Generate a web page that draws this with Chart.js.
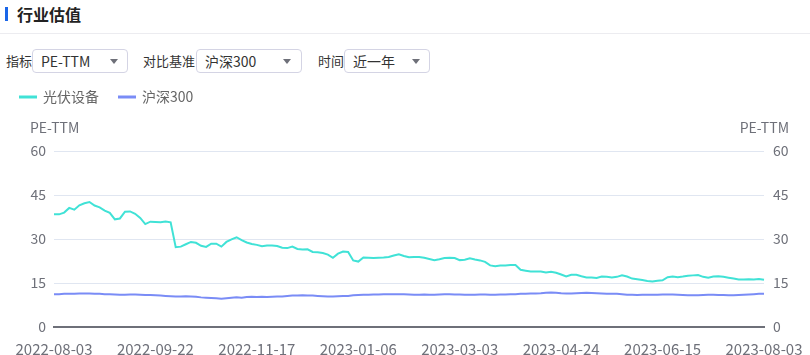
<!DOCTYPE html>
<html>
<head>
<meta charset="utf-8">
<script src="https://cdn.jsdelivr.net/npm/chart.js@4"></script>
<style>
  body { margin: 0; width: 810px; height: 355px; background: #fff; font-family: "Microsoft YaHei", "Noto Sans CJK SC", sans-serif; color: #333; overflow: hidden; position: relative; }
  .bar { position: absolute; left: 5px; top: 7px; width: 3px; height: 14px; background: #1a66e8; }
  .title { position: absolute; left: 17px; top: 2px; font-size: 16px; font-weight: bold; line-height: 24px; color: #222; }
  .sep { position: absolute; left: 0; top: 33px; width: 810px; height: 1px; background: #ececf0; }
  .lbl { position: absolute; top: 51px; font-size: 13px; line-height: 20px; color: #333; }
  .sel { position: absolute; top: 49px; height: 22px; border: 1px solid #d4d4e4; border-radius: 4px; box-sizing: content-box; font-size: 14px; line-height: 22px; color: #333; z-index: 2; background: #fff; }
  .sel span { position: absolute; left: 8px; top: 0; }
  .sel i { position: absolute; top: 9px; width: 0; height: 0; border-left: 4px solid transparent; border-right: 4px solid transparent; border-top: 5px solid #6e7079; }
  #wrap { position: absolute; left: 0; top: 70px; width: 810px; height: 285px; }
</style>
</head>
<body>
<div class="bar"></div>
<div class="title">行业估值</div>
<div class="sep"></div>
<div class="lbl" style="left:6px">指标</div>
<div class="sel" style="left:32px;width:94px"><span>PE-TTM</span><i style="left:77px"></i></div>
<div class="lbl" style="left:143px">对比基准</div>
<div class="sel" style="left:196px;width:104px"><span>沪深300</span><i style="left:86px"></i></div>
<div class="lbl" style="left:318px">时间</div>
<div class="sel" style="left:344px;width:84px"><span>近一年</span><i style="left:67px"></i></div>
<div id="wrap"><canvas id="c"></canvas></div>
<script>
const seriesNames = ['光伏设备', '沪深300'];
const tickDates = ['2022-08-03', '2022-09-22', '2022-11-17', '2023-01-06', '2023-03-03', '2023-04-24', '2023-06-15', '2023-08-03'];
const yTicks = [0, 15, 30, 45, 60];

const pvValues = [
  38.4, 38.4, 39.0, 40.6, 40.0, 41.5, 42.2, 42.6, 41.4, 40.8,
  39.7, 38.9, 36.7, 37.0, 39.3, 39.4, 38.6, 37.2, 35.1, 35.9,
  35.8, 35.7, 36.0, 35.7, 27.2, 27.4, 28.2, 29.0, 28.7, 27.7,
  27.3, 28.4, 28.4, 27.4, 29.0, 29.9, 30.6, 29.6, 28.8, 28.3,
  28.0, 27.5, 27.8, 27.8, 27.6, 27.0, 26.9, 27.4, 26.6, 26.4,
  26.5, 25.6, 25.5, 25.2, 24.7, 23.6, 25.0, 25.7, 25.6, 22.7,
  22.3, 23.7, 23.6, 23.5, 23.6, 23.7, 23.9, 24.4, 24.8, 24.2,
  23.8, 23.9, 23.9, 23.6, 23.2, 22.8, 23.1, 23.5, 23.6, 23.5,
  22.8, 22.9, 23.4, 23.0, 22.7, 22.2, 21.0, 20.7, 21.0, 21.0,
  21.1, 21.1, 19.5, 19.2, 18.9, 18.9, 18.9, 18.6, 18.8, 18.5,
  17.9, 17.2, 17.8, 17.8, 17.3, 16.9, 16.9, 16.7, 17.2, 17.1,
  16.9, 17.1, 17.6, 17.2, 16.5, 16.3, 16.0, 15.7, 15.5, 15.8,
  15.9, 17.0, 17.2, 17.0, 17.2, 17.5, 17.6, 17.7, 17.1, 16.8,
  17.2, 17.3, 17.1, 16.8, 16.5, 16.2, 16.2, 16.3, 16.2, 16.4,
  16.1
];

const hs300Values = [
  11.2, 11.2, 11.3, 11.3, 11.3, 11.4, 11.4, 11.4, 11.3, 11.3,
  11.2, 11.2, 11.1, 11.0, 11.0, 11.1, 11.1, 11.0, 10.9, 10.9,
  10.8, 10.7, 10.6, 10.5, 10.4, 10.4, 10.5, 10.4, 10.3, 10.1,
  10.0, 9.9, 9.8, 9.6, 9.8, 10.0, 10.1, 10.0, 10.2, 10.3,
  10.2, 10.3, 10.2, 10.3, 10.4, 10.4, 10.6, 10.7, 10.7, 10.8,
  10.7, 10.7, 10.6, 10.5, 10.4, 10.4, 10.5, 10.6, 10.6, 10.8,
  10.9, 11.0, 11.0, 11.1, 11.1, 11.2, 11.2, 11.2, 11.2, 11.2,
  11.1, 11.0, 11.0, 11.1, 11.0, 11.0, 11.1, 11.2, 11.2, 11.1,
  11.1, 11.0, 11.0, 11.0, 11.1, 11.1, 11.0, 11.0, 11.1, 11.1,
  11.2, 11.2, 11.3, 11.3, 11.4, 11.4, 11.5, 11.7, 11.8, 11.7,
  11.5, 11.4, 11.4, 11.5, 11.6, 11.7, 11.6, 11.5, 11.4, 11.3,
  11.3, 11.3, 11.2, 11.0, 11.0, 10.9, 11.0, 11.0, 11.0, 11.0,
  11.1, 11.1, 11.1, 11.0, 10.9, 10.8, 10.8, 10.8, 10.9, 11.0,
  11.0, 10.9, 10.9, 10.8, 10.8, 10.9, 11.0, 11.1, 11.2, 11.3,
  11.3
];

// one label every 20 points, the rest blank
const step = (pvValues.length - 1) / (tickDates.length - 1);
const labels = pvValues.map((v, i) => (i % step === 0 ? tickDates[i / step] : ''));

const axisColor = '#6e7079';
const font = { family: '"Microsoft YaHei", "Noto Sans CJK SC", sans-serif', size: 14 };

const axisTitles = {
  id: 'axisTitles',
  afterDraw(chart) {
    const { ctx, chartArea } = chart;
    ctx.save();
    ctx.font = '14px ' + font.family;
    ctx.fillStyle = axisColor;
    ctx.textBaseline = 'middle';
    ctx.textAlign = 'left';
    ctx.fillText('PE-TTM', 30, chartArea.top - 23);
    ctx.textAlign = 'right';
    ctx.fillText('PE-TTM', 789, chartArea.top - 23);
    ctx.restore();
  }
};

new Chart(document.getElementById('c'), {
  type: 'line',
  data: {
    labels: labels,
    datasets: [
      { label: seriesNames[0], data: pvValues, borderColor: '#40e2d6', backgroundColor: '#40e2d6', borderWidth: 2, pointRadius: 0, yAxisID: 'y' },
      { label: seriesNames[1], data: hs300Values, borderColor: '#7a8cf6', backgroundColor: '#7a8cf6', borderWidth: 2, pointRadius: 0, yAxisID: 'y1' }
    ]
  },
  options: {
    responsive: true,
    maintainAspectRatio: false,
    animation: false,
    layout: { padding: 0 },
    plugins: {
      legend: {
        align: 'start',
        labels: { boxWidth: 16, boxHeight: 1, padding: 20, color: '#666', font: font }
      },
      title: {
        display: true,
        text: ' ',
        weight: 500,
        font: { size: 14, lineHeight: 1.2 },
        padding: { top: 10, bottom: 10.2 }
      },
      tooltip: { enabled: false }
    },
    scales: {
      x: {
        offset: false,
        grid: { display: false },
        border: { color: axisColor, width: 2 },
        ticks: { autoSkip: false, maxRotation: 0, padding: 5, color: axisColor, font: { family: font.family, size: 15 } },
        afterFit(scale) { scale.height = 28; }
      },
      y: {
        position: 'left',
        min: yTicks[0], max: yTicks[yTicks.length - 1],
        afterBuildTicks(scale) { scale.ticks = yTicks.map(v => ({ value: v })); },
        grid: { color: '#e0e6f1', drawTicks: false },
        border: { display: false },
        ticks: { padding: 8, color: axisColor, font: font },
        afterFit(scale) { scale.width = 54; }
      },
      y1: {
        position: 'right',
        min: yTicks[0], max: yTicks[yTicks.length - 1],
        afterBuildTicks(scale) { scale.ticks = yTicks.map(v => ({ value: v })); },
        grid: { display: false, drawTicks: false },
        border: { display: false },
        ticks: { padding: 9, color: axisColor, font: font },
        afterFit(scale) { scale.width = 46; }
      }
    }
  },
  plugins: [axisTitles]
});
</script>
</body>
</html>
